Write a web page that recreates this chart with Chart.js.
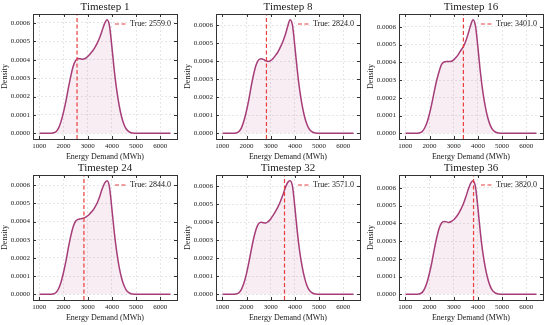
<!DOCTYPE html>
<html>
<head>
<meta charset="utf-8">
<script src="https://cdn.jsdelivr.net/npm/chart.js@4/dist/chart.umd.min.js"></script>
<style>
  html, body { margin: 0; padding: 0; background: #fff; }
  #wrap { position: relative; width: 550px; height: 325px; }
  .panel { position: absolute; }
</style>
</head>
<body>
<div id="wrap"></div>
<script>
// energy grid (MWh) the KDE was evaluated on
const energy = [1010, 1300, 1500, 1600, 1700, 1800, 1900, 2000, 2100, 2200, 2300, 2400, 2500, 2600, 2700,
  2800, 2900, 3000, 3100, 3200, 3300, 3400, 3500, 3600, 3700, 3800, 3900, 4000, 4100, 4200, 4300,
  4400, 4500, 4600, 4700, 4800, 4900, 5100, 5500, 6000, 6420];

const timesteps = [1, 8, 16, 24, 32, 36];
const trueValues = [2559, 2824, 3401, 2844, 3571, 3820];

// densities in units of 1e-4
const density1 = [0, 0, 0.005, 0.03, 0.1, 0.3, 0.65, 1.15, 1.75, 2.45, 3.1, 3.65, 3.95, 4.07, 4.05,
  4.03, 4.08, 4.18, 4.32, 4.48, 4.68, 4.92, 5.22, 5.6, 5.98, 6.18, 5.85, 4.7, 3.4, 2.35, 1.52,
  0.9, 0.48, 0.22, 0.09, 0.03, 0.01, 0, 0, 0, 0];
const density8 = [0, 0, 0.005, 0.03, 0.11, 0.33, 0.72, 1.25, 1.9, 2.65, 3.3, 3.8, 4.07, 4.14, 4.1,
  4.02, 3.98, 4.03, 4.15, 4.32, 4.52, 4.78, 5.08, 5.45, 5.92, 6.3, 6.0, 4.8, 3.48, 2.38, 1.55,
  0.92, 0.49, 0.22, 0.09, 0.03, 0.01, 0, 0, 0, 0];
const density16 = [0, 0, 0.005, 0.03, 0.1, 0.3, 0.62, 1.1, 1.7, 2.38, 3.0, 3.5, 3.88, 4.02, 4.04,
  4.04, 4.06, 4.14, 4.28, 4.46, 4.68, 4.88, 5.2, 5.62, 6.08, 6.4, 6.05, 4.85, 3.48, 2.38, 1.55,
  0.92, 0.49, 0.22, 0.09, 0.03, 0.01, 0, 0, 0, 0];
const density24 = [0, 0, 0.005, 0.03, 0.11, 0.32, 0.68, 1.2, 1.82, 2.55, 3.2, 3.72, 4.02, 4.12, 4.15,
  4.18, 4.23, 4.32, 4.45, 4.6, 4.8, 5.05, 5.4, 5.8, 6.12, 6.25, 5.9, 4.7, 3.4, 2.33, 1.5,
  0.9, 0.48, 0.22, 0.09, 0.03, 0.01, 0, 0, 0, 0];
const density32 = [0, 0, 0.005, 0.03, 0.1, 0.3, 0.65, 1.15, 1.78, 2.48, 3.12, 3.62, 3.92, 4.0, 3.97,
  3.96, 4.04, 4.18, 4.38, 4.6, 4.85, 5.15, 5.5, 5.9, 6.2, 6.3, 6.0, 4.82, 3.46, 2.36, 1.53,
  0.91, 0.48, 0.22, 0.09, 0.03, 0.01, 0, 0, 0, 0];
const density36 = [0, 0, 0.005, 0.03, 0.11, 0.32, 0.68, 1.2, 1.82, 2.55, 3.2, 3.72, 4.02, 4.1, 4.08,
  4.05, 4.1, 4.2, 4.35, 4.55, 4.8, 5.1, 5.48, 5.9, 6.25, 6.4, 6.05, 4.88, 3.5, 2.38, 1.55,
  0.92, 0.49, 0.22, 0.09, 0.03, 0.01, 0, 0, 0, 0];
const densities = [density1, density8, density16, density24, density32, density36];

const xTicks = [1000, 2000, 3000, 4000, 5000, 6000];
const yTicks = [0, 0.0001, 0.0002, 0.0003, 0.0004, 0.0005, 0.0006];

const SERIF = "'Liberation Serif', 'DejaVu Serif', serif";
const LINE = 'rgb(166, 60, 120)';
const FILL = 'rgba(166, 60, 120, 0.09)';
const RED = 'rgb(232, 62, 62)';
const INK = '#1a1a1a';

// frame with inward ticks, axes-centred title and an in-axes legend
const deco = {
  id: 'deco',
  afterDatasetsDraw(chart, args, opts) {
    const { ctx, chartArea: a, scales: { x, y } } = chart;
    ctx.save();
    ctx.strokeStyle = '#333';
    ctx.lineWidth = 1;
    ctx.beginPath();
    x.ticks.forEach(t => {
      const px = Math.round(x.getPixelForValue(t.value)) + 0.5;
      ctx.moveTo(px, a.bottom); ctx.lineTo(px, a.bottom - 3);
      ctx.moveTo(px, a.top); ctx.lineTo(px, a.top + 3);
    });
    y.ticks.forEach(t => {
      const py = Math.round(y.getPixelForValue(t.value)) + 0.5;
      ctx.moveTo(a.left, py); ctx.lineTo(a.left + 3, py);
      ctx.moveTo(a.right, py); ctx.lineTo(a.right - 3, py);
    });
    ctx.stroke();
    ctx.strokeRect(Math.round(a.left) + 0.5, Math.round(a.top) + 0.5,
      Math.round(a.width), Math.round(a.height));

    // title
    ctx.fillStyle = INK;
    ctx.font = '11px ' + SERIF;
    ctx.textAlign = 'center';
    ctx.textBaseline = 'middle';
    ctx.fillText(opts.title, (a.left + a.right) / 2, a.top - 7);

    // legend
    const ds = chart.data.datasets[0];
    ctx.font = '8px ' + SERIF;
    ctx.textAlign = 'right';
    const ty = a.top + 10;
    const tr = a.right - 6;
    const tw = ctx.measureText(ds.label).width;
    ctx.fillText(ds.label, tr, ty);
    ctx.strokeStyle = ds.borderColor;
    ctx.lineWidth = ds.borderWidth;
    ctx.setLineDash(ds.borderDash);
    ctx.beginPath();
    ctx.moveTo(tr - tw - 15, ty);
    ctx.lineTo(tr - tw - 4, ty);
    ctx.stroke();
    ctx.restore();
  }
};

const wrap = document.getElementById('wrap');
const colLeft = [0, 183, 366];
const rowTop = [0, 161];

timesteps.forEach((ts, i) => {
  const canvas = document.createElement('canvas');
  canvas.className = 'panel';
  canvas.width = 183; canvas.height = 162;
  canvas.style.left = colLeft[i % 3] + 'px';
  canvas.style.top = rowTop[Math.floor(i / 3)] + 'px';
  canvas.style.width = '183px'; canvas.style.height = '162px';
  wrap.appendChild(canvas);

  const dens = densities[i].map(v => v * 1e-4);
  const peak = Math.max(...dens);
  const yMin = -0.05 * peak, yMax = 1.05 * peak;
  const span = energy[energy.length - 1] - energy[0];
  const xMin = energy[0] - 0.05 * span, xMax = energy[energy.length - 1] + 0.05 * span;

  new Chart(canvas, {
    type: 'line',
    data: {
      datasets: [
        {
          label: 'True: ' + trueValues[i].toFixed(1),
          data: [{ x: trueValues[i], y: yMin }, { x: trueValues[i], y: yMax }],
          borderColor: RED,
          borderWidth: 1.2,
          borderDash: [4, 2.5],
          pointRadius: 0,
          fill: false,
          order: 0
        },
        {
          label: 'density',
          data: energy.map((e, k) => ({ x: e, y: dens[k] })),
          borderColor: LINE,
          backgroundColor: FILL,
          borderWidth: 1.5,
          pointRadius: 0,
          fill: 'origin',
          cubicInterpolationMode: 'monotone',
          order: 1
        }
      ]
    },
    options: {
      responsive: false,
      animation: false,
      layout: { padding: { left: 0, right: 6, top: 14, bottom: 0 } },
      plugins: {
        tooltip: { enabled: false },
        legend: { display: false },
        title: { display: false },
        deco: { title: 'Timestep ' + ts }
      },
      scales: {
        x: {
          type: 'linear',
          min: xMin,
          max: xMax,
          afterBuildTicks: s => { s.ticks = xTicks.map(v => ({ value: v })); },
          afterFit: s => { s.height = 23; },
          ticks: { color: INK, font: { family: SERIF, size: 7 }, padding: 3, maxRotation: 0,
            callback: v => String(v) },
          grid: { color: '#d6d6d6', lineWidth: 0.6, drawTicks: false },
          border: { display: false, dash: [2, 2] },
          title: { display: true, text: 'Energy Demand (MWh)', color: INK,
            font: { family: SERIF, size: 8 }, padding: { top: 1, bottom: 0 } }
        },
        y: {
          type: 'linear',
          min: yMin,
          max: yMax,
          afterBuildTicks: s => { s.ticks = yTicks.map(v => ({ value: v })); },
          afterFit: s => { s.width = 33; },
          ticks: { color: INK, font: { family: SERIF, size: 7 }, padding: 3,
            callback: v => v.toFixed(4) },
          grid: { color: '#d6d6d6', lineWidth: 0.6, drawTicks: false },
          border: { display: false, dash: [2, 2] },
          title: { display: true, text: 'Density', color: INK,
            font: { family: SERIF, size: 8 }, padding: { top: 0, bottom: 2 } }
        }
      }
    },
    plugins: [deco]
  });
});
</script>
</body>
</html>
